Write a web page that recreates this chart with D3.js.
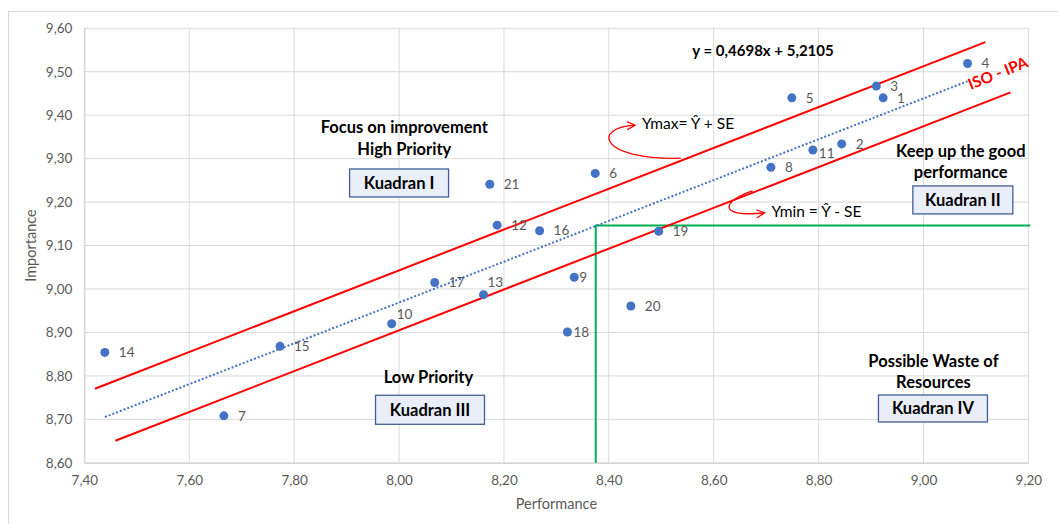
<!DOCTYPE html>
<html>
<head>
<meta charset="utf-8">
<script src="https://cdn.jsdelivr.net/npm/d3@7"></script>
<style>
  body { margin: 0; background: #fff; }
  svg { display: block; font-family: Lato, "Open Sans", sans-serif; }
</style>
</head>
<body>
<svg id="chart" width="1058" height="524"></svg>
<script>
// attribute numbers and their (performance, importance) scores
const ids = [1, 2, 3, 4, 5, 6, 7, 8, 9, 10, 11, 12, 13, 14, 15, 16, 17, 18, 19, 20, 21];
const performance = [8.923, 8.844, 8.910, 9.084, 8.749, 8.374, 7.666, 8.709, 8.334, 7.986, 8.789,
                     8.187, 8.161, 7.439, 7.773, 8.268, 8.068, 8.321, 8.495, 8.442, 8.173];
const importance = [9.440, 9.334, 9.467, 9.519, 9.440, 9.266, 8.708, 9.280, 9.027, 8.920, 9.320,
                    9.147, 8.987, 8.854, 8.868, 9.134, 9.015, 8.901, 9.133, 8.961, 9.241];

const xTicks = [7.4, 7.6, 7.8, 8.0, 8.2, 8.4, 8.6, 8.8, 9.0, 9.2];
const yTicks = [8.6, 8.7, 8.8, 8.9, 9.0, 9.1, 9.2, 9.3, 9.4, 9.5, 9.6];

// regression (ISO-IPA) and the hand drawn bands around it
const slope = 0.4698;
const intercept = 5.2105;
const seUp = 0.074;
const seDown = 0.064;
const ymaxRange = [7.42, 9.118];
const yminRange = [7.459, 9.166];

// quadrant split (means)
const meanPerformance = 8.375;
const meanImportance = 9.146;

// label nudges for crowded points (pixels)
const labelNudge = { 9: [5, 0], 10: [5, -9], 11: [6, 3], 13: [4, -12], 18: [6, 0] };

const fmt = v => v.toFixed(2).replace('.', ',');

const svg = d3.select('#chart');
const margin = { top: 28.3, right: 29.6, bottom: 61.2, left: 84.4 };
const width = 1058 - margin.left - margin.right;
const height = 524 - margin.top - margin.bottom;

// outer chart frame
svg.append('rect')
  .attr('x', 8.5).attr('y', 11.5)
  .attr('width', 1070).attr('height', 530)
  .attr('fill', 'none').attr('stroke', '#d9d9d9');

const g = svg.append('g').attr('transform', `translate(${margin.left},${margin.top})`);

const x = d3.scaleLinear().domain([7.4, 9.2]).range([0, width]);
const y = d3.scaleLinear().domain([8.6, 9.6]).range([height, 0]);

// grid
g.append('g').selectAll('line').data(xTicks).enter().append('line')
  .attr('x1', d => x(d)).attr('x2', d => x(d))
  .attr('y1', 0).attr('y2', height)
  .attr('stroke', '#d9d9d9');
g.append('g').selectAll('line').data(yTicks).enter().append('line')
  .attr('x1', 0).attr('x2', width)
  .attr('y1', d => y(d)).attr('y2', d => y(d))
  .attr('stroke', '#d9d9d9');

// axes
const xAxis = g.append('g')
  .attr('transform', `translate(0,${height})`)
  .call(d3.axisBottom(x).tickValues(xTicks).tickFormat(fmt).tickSize(0).tickPadding(13));
const yAxis = g.append('g')
  .call(d3.axisLeft(y).tickValues(yTicks).tickFormat(fmt).tickSize(0).tickPadding(12));
[xAxis, yAxis].forEach(a => {
  a.select('.domain').attr('stroke', '#cfcfcf');
  a.selectAll('text').attr('fill', '#595959').style('font-size', '13.5px').style('font-family', 'Lato, sans-serif');
});

g.append('text')
  .attr('x', width / 2).attr('y', height + 46)
  .attr('text-anchor', 'middle')
  .attr('fill', '#595959').style('font-size', '14.5px')
  .text('Performance');
g.append('text')
  .attr('transform', `translate(${-48},${height / 2}) rotate(-90)`)
  .attr('text-anchor', 'middle')
  .attr('fill', '#595959').style('font-size', '14.5px')
  .text('Importance');

// quadrant lines
g.append('path')
  .attr('d', d3.line()([[x(meanPerformance), y(8.6)], [x(meanPerformance), y(meanImportance)], [x(9.2) + 2, y(meanImportance)]]))
  .attr('fill', 'none').attr('stroke', '#00b050').attr('stroke-width', 2);

// Ymax / Ymin bands
const yhat = v => slope * v + intercept;
const line = d3.line().x(d => x(d[0])).y(d => y(d[1]));
g.append('path')
  .attr('d', line(ymaxRange.map(v => [v, yhat(v) + seUp])))
  .attr('stroke', '#ff0000').attr('stroke-width', 2).attr('fill', 'none');
g.append('path')
  .attr('d', line(yminRange.map(v => [v, yhat(v) - seDown])))
  .attr('stroke', '#ff0000').attr('stroke-width', 2).attr('fill', 'none');

// trend line over the data range
const xExt = d3.extent(performance);
g.append('path')
  .attr('d', line(xExt.map(v => [v, yhat(v)])))
  .attr('stroke', '#4472c4').attr('stroke-width', 2)
  .attr('stroke-dasharray', '2,2').attr('fill', 'none');

// points
const pts = ids.map((id, i) => ({ id, p: performance[i], imp: importance[i] }));
g.append('g').selectAll('circle').data(pts).enter().append('circle')
  .attr('cx', d => x(d.p)).attr('cy', d => y(d.imp))
  .attr('r', 4.5).attr('fill', '#4472c4');
g.append('g').selectAll('text').data(pts).enter().append('text')
  .attr('x', d => x(d.p) + (labelNudge[d.id] ? labelNudge[d.id][0] : 14))
  .attr('y', d => y(d.imp) + (labelNudge[d.id] ? labelNudge[d.id][1] : 0))
  .attr('dy', '0.35em')
  .attr('fill', '#595959').style('font-size', '13.5px')
  .text(d => d.id);

// annotations
g.append('text')
  .attr('x', x(8.694)).attr('y', y(9.536))
  .attr('text-anchor', 'middle').style('font-size', '15px').style('font-weight', 'bold')
  .text('y = 0,4698x + 5,2105');

g.append('text')
  .attr('transform', `translate(${x(9.146)},${y(9.485)}) rotate(-22)`)
  .attr('text-anchor', 'middle')
  .attr('fill', '#ff0000').style('font-size', '15.5px').style('font-weight', 'bold')
  .text('ISO - IPA');

svg.append('defs').append('marker')
  .attr('id', 'arr').attr('viewBox', '0 0 10 10')
  .attr('refX', 9).attr('refY', 5)
  .attr('markerWidth', 10).attr('markerHeight', 10)
  .attr('markerUnits', 'userSpaceOnUse')
  .attr('orient', 'auto')
  .append('path').attr('d', 'M1,1 L9,5 L1,9')
  .attr('fill', 'none').attr('stroke', '#ff0000').attr('stroke-width', 1.3);

const arrows = [
  [[8.537, 9.301], [8.379, 9.297], [8.369, 9.372], [8.450, 9.377]],
  [[8.674, 9.226], [8.620, 9.205], [8.601, 9.164], [8.697, 9.175]]
];
arrows.forEach(a => {
  const pp = a.map(d => [x(d[0]), y(d[1])]);
  g.append('path')
    .attr('d', `M${pp[0]} C${pp[1]} ${pp[2]} ${pp[3]}`)
    .attr('fill', 'none').attr('stroke', '#ff0000').attr('stroke-width', 1.3)
    .attr('marker-end', 'url(#arr)');
});

g.append('text').attr('x', x(8.463)).attr('y', y(9.368))
  .style('font-size', '15.5px').text('Ymax= Ŷ + SE');
g.append('text').attr('x', x(8.71)).attr('y', y(9.166))
  .style('font-size', '15.5px').text('Ymin = Ŷ - SE');

const headers = [
  { t: 'Focus on improvement', px: 8.01, py: 9.359 },
  { t: 'High Priority', px: 8.01, py: 9.308 },
  { t: 'Keep up the good', px: 9.071, py: 9.304 },
  { t: 'performance', px: 9.071, py: 9.255 },
  { t: 'Low Priority', px: 8.056, py: 8.784 },
  { t: 'Possible Waste of', px: 9.019, py: 8.821 },
  { t: 'Resources', px: 9.019, py: 8.771 }
];
g.append('g').selectAll('text').data(headers).enter().append('text')
  .attr('x', d => x(d.px)).attr('y', d => y(d.py))
  .attr('text-anchor', 'middle')
  .style('font-size', '16.5px').style('font-weight', 'bold')
  .text(d => d.t);

const boxes = [
  { t: 'Kuadran I', cx: 8.0, cy: 9.244, w: 99, h: 28 },
  { t: 'Kuadran II', cx: 9.075, cy: 9.205, w: 100, h: 28 },
  { t: 'Kuadran III', cx: 8.059, cy: 8.722, w: 109, h: 29 },
  { t: 'Kuadran IV', cx: 9.018, cy: 8.725, w: 109, h: 27 }
];
const bx = g.append('g').selectAll('g').data(boxes).enter().append('g')
  .attr('transform', d => `translate(${x(d.cx)},${y(d.cy)})`);
bx.append('rect')
  .attr('x', d => -d.w / 2).attr('y', d => -d.h / 2)
  .attr('width', d => d.w).attr('height', d => d.h)
  .attr('fill', '#e9eef8').attr('stroke', '#3f5f9a').attr('stroke-width', 1.3);
bx.append('text')
  .attr('text-anchor', 'middle').attr('dy', '0.36em')
  .style('font-size', '16.5px').style('font-weight', 'bold')
  .text(d => d.t);
</script>
</body>
</html>
